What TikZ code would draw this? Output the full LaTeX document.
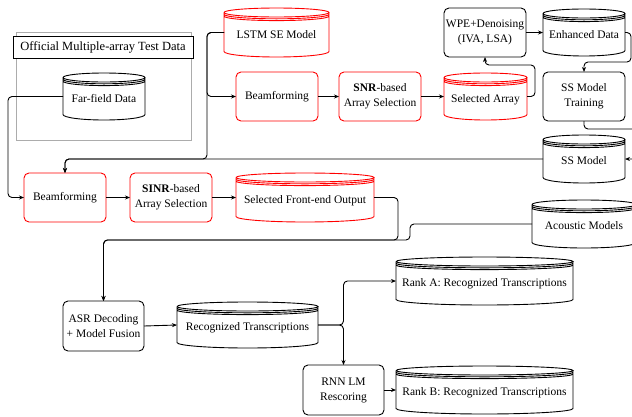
\documentclass[tikz,border=0pt]{standalone}
\usepackage{fontspec}
\setmainfont{Liberation Serif}
\usetikzlibrary{arrows.meta,calc}
\tikzset{
  txt/.style={font=\fontsize{11.5}{15}\selectfont, align=center},
  box/.style={txt, draw, rounded corners=5pt, line width=0.9pt, minimum width=82pt, minimum height=49pt, inner sep=1pt, outer sep=0pt},
  redbox/.style={box, draw=red},
  dbnode/.style={txt, minimum width=#1, minimum height=48pt, inner sep=0pt, outer sep=0pt, text height=13pt, text depth=2pt},
  conn/.style={line width=0.9pt, rounded corners=4pt, -{Stealth[length=5pt,width=4pt]}},
}
\newcommand\dbdraw[2]{%
  \draw[line width=0.9pt, draw=#2] let \p1=(#1.north west), \p2=(#1.south east), \n1={0.5*(\x2-\x1)} in
    (\x1,\y1-4.5pt) arc[start angle=180,end angle=540,x radius={\n1*1pt},y radius=4.5pt]
    (\x1,\y1-6.3pt) arc[start angle=180,end angle=360,x radius={\n1*1pt},y radius=4.5pt]
    (\x1,\y1-8.1pt) arc[start angle=180,end angle=360,x radius={\n1*1pt},y radius=4.5pt]
    (\x1,\y1-4.5pt) -- (\x1,\y2+5.5pt) arc[start angle=180,end angle=360,x radius={\n1*1pt},y radius=5.5pt] -- (\x2,\y1-4.5pt);
}
\begin{document}
\begin{tikzpicture}[x=1pt,y=-1pt]
\useasboundingbox (0,0) rectangle (632,416);
% group
\node[draw=gray!65, line width=0.9pt, minimum width=175pt, minimum height=108pt, inner sep=0pt] (grp) at (103.5,86) {};
\node[draw, fill=white, line width=0.9pt, minimum width=180pt, minimum height=22pt, inner sep=0pt, font=\fontsize{12.5}{14}\selectfont] (title) at (103,47) {Official Multiple-array Test Data};
% databases
\node[dbnode=82pt, minimum height=47pt] (far) at (104,96.5) {Far-field Data};
\node[dbnode=105pt, minimum height=49pt] (lstm) at (276.5,32.5) {LSTM SE Model};
\node[dbnode=83pt, minimum height=47pt] (selarr) at (485.5,96.5) {Selected Array};
\node[dbnode=82pt, minimum height=47pt] (enh) at (584,32.5) {Enhanced Data};
\node[dbnode=82pt] (ssm) at (584,159) {SS Model};
\node[dbnode=104pt] (ac) at (584,224) {Acoustic Models};
\node[dbnode=138pt, minimum height=49pt] (sfo) at (305,197.5) {Selected Front-end Output};
\node[dbnode=141pt, minimum height=46pt] (rt) at (247.5,325) {Recognized Transcriptions};
\node[dbnode=177pt] (rankA) at (484.5,281) {Rank A: Recognized Transcriptions};
\node[dbnode=177pt] (rankB) at (484.5,390) {Rank B: Recognized Transcriptions};
\dbdraw{far}{black}
\dbdraw{lstm}{red}
\dbdraw{selarr}{red}
\dbdraw{enh}{black}
\dbdraw{ssm}{black}
\dbdraw{ac}{black}
\dbdraw{sfo}{red}
\dbdraw{rt}{black}
\dbdraw{rankA}{black}
\dbdraw{rankB}{black}
% boxes
\node[redbox] (bf1) at (277,96.5) {Beamforming};
\node[redbox] (snr) at (380,96.5) {\textbf{SNR}-based\\Array Selection};
\node[box] (wpe) at (485,32.5) {WPE+Denoising\\(IVA, LSA)};
\node[box] (sst) at (584,96.5) {SS Model\\Training};
\node[redbox] (bf2) at (65,197.5) {Beamforming};
\node[redbox] (sinr) at (171,197.5) {\textbf{SINR}-based\\Array Selection};
\node[box, minimum width=81pt, minimum height=50pt] (asr) at (103.5,326) {ASR Decoding\\+ Model Fusion};
\node[box, minimum width=81pt, minimum height=50pt] (rnn) at (343.5,390) {RNN LM\\Rescoring};
% junction coordinates
\coordinate (jL) at (8,0);
\coordinate (jA) at (207,0);
\coordinate (jB) at (535,65);
\coordinate (jC) at (631,62);
\coordinate (jD) at (637,129);
\coordinate (jE) at (398,240);
\coordinate (jF) at (410,240);
% connectors
\draw[conn] (far.west) -- (jL |- far.west) -- (jL |- bf2.west) -- (bf2.west);
\draw[conn] (lstm.west) -- (jA |- lstm.west) -- (jA |- bf1.west) -- (bf1.west);
\draw[conn] (lstm.west) -- (jA |- lstm.west) -- (jA |- ssm.west) -- (bf2.north |- ssm.west) -- (bf2.north);
\draw[conn] (ssm.west) -- (bf2.north |- ssm.west) -- (bf2.north);
\draw[conn] (bf1.east) -- (snr.west);
\draw[conn] (snr.east) -- (selarr.west);
\draw[conn] (selarr.east) -- (jB |- selarr.east) -- (jB) -- (wpe.south |- jB) -- (wpe.south);
\draw[conn] (wpe.east) -- (enh.west);
\draw[conn] (enh.east) -- (jC |- enh.east) -- (jC) -- (sst.north |- jC) -- (sst.north);
\draw[conn] (sst.south) -- (sst.south |- jD) -- (jD) -- (jD |- ssm.east) -- (ssm.east);
\draw[conn] (bf2.east) -- (sinr.west);
\draw[conn] (sinr.east) -- (sfo.west);
\draw[conn] (sfo.east) -- (jE |- sfo.east) -- (jE) -- (asr.north |- jE) -- (asr.north);
\draw[conn] (ac.west) -- (jF |- ac.west) -- (jF) -- (asr.north |- jF) -- (asr.north);
\draw[conn] (asr.east) -- (rt.west);
\draw[conn] (rt.east) -- (rnn.north |- rt.east) -- (rnn.north |- rankA.west) -- (rankA.west);
\draw[conn] (rt.east) -- (rnn.north |- rt.east) -- (rnn.north);
\draw[conn] (rnn.east) -- (rankB.west);
\end{tikzpicture}
\end{document}
